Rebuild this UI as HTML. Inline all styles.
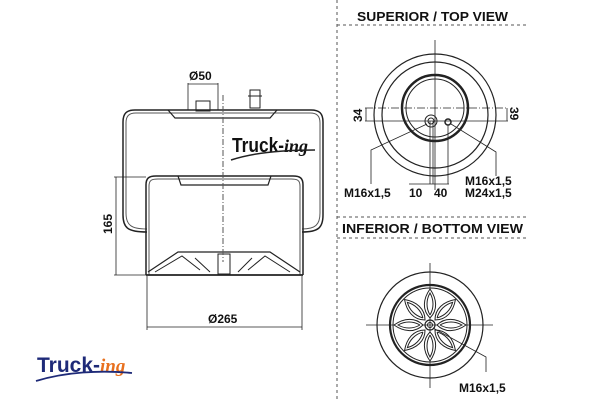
<!DOCTYPE html>
<html><head><meta charset="utf-8"><style>
html,body{margin:0;padding:0;background:#fff;width:600px;height:400px;overflow:hidden}
svg{display:block}
text{font-family:"Liberation Sans",Arial,sans-serif;font-weight:700;fill:#111}
</style></head><body>
<svg width="600" height="400" viewBox="0 0 600 400" xmlns="http://www.w3.org/2000/svg">
<g fill="none" stroke="#222" stroke-width="1">
<line x1="337" y1="0" x2="337" y2="400" stroke-dasharray="3,3" stroke="#555"/>
<line x1="337" y1="25" x2="527" y2="25" stroke-dasharray="3,3" stroke="#555"/>
<line x1="337" y1="217" x2="527" y2="217" stroke-dasharray="3,3" stroke="#555"/>
<line x1="337" y1="238" x2="527" y2="238" stroke-dasharray="3,3" stroke="#555"/>

<path d="M147,232 C128,232 123,228 123,215 L123,122 C123,113 127,110 135,110 L311,110 C319,110 323,113 323,122 L323,215 C323,228 318,232 302,232" stroke-width="1.5"/>
<path d="M147,229 C131,229 126,225 126,213 L126,123 C126,116 129,113 136,113 L310,113 C317,113 320,116 320,123 L320,213 C320,225 315,229 302,229" stroke="#555"/>
<path d="M168,110 L175,118 L270,118 L277,110" stroke-width="1.2"/>
<path d="M146,275 L146,185 C146,178 149,176 156,176 L293,176 C300,176 303,178 303,185 L303,275" stroke-width="1.5"/>
<path d="M149,275 L149,186 C149,180 152,179 158,179 L291,179 C297,179 300,180 300,186 L300,275" stroke="#555"/>
<path d="M178,176 L181,185 L268,185 L271,176" stroke-width="1.2"/>
<path d="M146,275 L303,275" stroke-width="1.8"/>
<path d="M148,272 L178,252 L270,252 L300,272" stroke-width="1.2"/>
<path d="M155,272 L182,256 L200,270 M290,272 L265,256 L248,270 M195,258 L210,272 M252,258 L238,272"/>
<rect x="218" y="254" width="12" height="20"/>
<rect x="196" y="101" width="14" height="10"/>
<rect x="250" y="90" width="10" height="18"/>
<line x1="248" y1="96" x2="262" y2="96"/>
<line x1="223" y1="95" x2="223" y2="262" stroke-dasharray="6,2,1,2" stroke="#555"/>
<line x1="188" y1="83" x2="188" y2="110" stroke-width="0.8"/>
<line x1="218" y1="83" x2="218" y2="110" stroke-width="0.8"/>
<line x1="188" y1="84" x2="218" y2="84" stroke-width="0.8"/>
<line x1="114" y1="177" x2="146" y2="177" stroke-width="0.8"/>
<line x1="114" y1="275" x2="146" y2="275" stroke-width="0.8"/>
<line x1="116" y1="177" x2="116" y2="275" stroke-width="0.8"/>
<line x1="147" y1="276" x2="147" y2="330" stroke-width="0.8"/>
<line x1="302" y1="276" x2="302" y2="330" stroke-width="0.8"/>
<line x1="147" y1="327" x2="302" y2="327" stroke-width="0.8"/>

<line x1="435" y1="40" x2="435" y2="190" stroke-width="0.8"/>
<circle cx="435" cy="115" r="61" stroke-width="1.2"/>
<circle cx="435" cy="115" r="53" stroke-width="1.2"/>
<circle cx="435" cy="108" r="33" stroke-width="2.5"/>
<circle cx="435" cy="108" r="29"/>
<line x1="365" y1="108" x2="508" y2="108" stroke-width="0.8" stroke-dasharray="8,2,1,2"/>
<line x1="365" y1="121" x2="508" y2="121" stroke-width="0.8"/>
<line x1="366" y1="108" x2="366" y2="121" stroke-width="0.8"/>
<line x1="507" y1="108" x2="507" y2="121" stroke-width="0.8"/>
<circle cx="431" cy="121" r="6"/>
<circle cx="431" cy="121" r="3"/>
<circle cx="448" cy="122" r="3" stroke-width="1.5"/>
<polyline points="427,124 371,150 371,184" stroke-width="0.8"/>
<polyline points="451,124 496,152 496,176" stroke-width="0.8"/>
<line x1="430" y1="121" x2="430" y2="184" stroke-width="0.8"/>
<line x1="433" y1="121" x2="433" y2="184" stroke-width="0.8"/>
<line x1="448" y1="125" x2="448" y2="184" stroke-width="0.8"/>
<line x1="409" y1="184" x2="449" y2="184" stroke-width="0.8"/>

<line x1="430" y1="263" x2="430" y2="388" stroke-width="0.8"/>
<line x1="366" y1="325" x2="493" y2="325" stroke-width="0.8"/>
<circle cx="430" cy="325" r="53" stroke-width="1.2"/>
<circle cx="430" cy="325" r="40" stroke-width="2.2"/>
<circle cx="430" cy="325" r="37"/>
<g id="p">
<path d="M430,318 C422,310 423,299 430,289 C437,299 438,310 430,318 Z" fill="#fff"/>
<path d="M430,315 C426,308 426,300 430,293 C434,300 434,308 430,315"/>
</g>
<use href="#p" transform="rotate(45 430 325)"/>
<use href="#p" transform="rotate(90 430 325)"/>
<use href="#p" transform="rotate(135 430 325)"/>
<use href="#p" transform="rotate(180 430 325)"/>
<use href="#p" transform="rotate(225 430 325)"/>
<use href="#p" transform="rotate(270 430 325)"/>
<use href="#p" transform="rotate(315 430 325)"/>
<circle cx="430" cy="325" r="5" stroke-width="1.2"/>
<circle cx="430" cy="325" r="2.5"/>
<polyline points="433,328 486,357 486,372" stroke-width="0.8"/>
</g>

<text x="232" y="152" font-size="20" textLength="52" lengthAdjust="spacingAndGlyphs">Truck-</text>
<text x="284" y="152" font-size="18" font-style="italic" font-weight="normal" style="font-family:'Liberation Serif',serif" fill="#222">ing</text>
<path d="M231,160 C255,152 285,150 315,150" fill="none" stroke="#222" stroke-width="1.5"/>
<text x="37" y="372" font-size="21" style="fill:#1e2a78" textLength="63" lengthAdjust="spacingAndGlyphs">Truck-</text>
<text x="100" y="372" font-size="19" font-style="italic" font-weight="normal" style="font-family:'Liberation Serif',serif;fill:#e8701e">ing</text>
<path d="M36,381 C65,372 100,370 132,373" fill="none" stroke="#1e2a78" stroke-width="1.8"/>

<text x="189" y="80" font-size="12">Ø50</text>
<text x="208" y="323" font-size="12">Ø265</text>
<text transform="translate(112,234) rotate(-90)" font-size="12">165</text>
<text x="357" y="21" font-size="13" textLength="151" lengthAdjust="spacingAndGlyphs">SUPERIOR / TOP VIEW</text>
<text x="342" y="233" font-size="13" textLength="181" lengthAdjust="spacingAndGlyphs">INFERIOR / BOTTOM VIEW</text>
<text transform="translate(362,122) rotate(-90)" font-size="12">34</text>
<text transform="translate(510,107) rotate(90)" font-size="12">39</text>
<text x="344" y="197" font-size="12">M16x1,5</text>
<text x="409" y="197" font-size="12">10</text>
<text x="434" y="197" font-size="12">40</text>
<text x="465" y="185" font-size="12">M16x1,5</text>
<text x="465" y="197" font-size="12">M24x1,5</text>
<text x="459" y="392" font-size="12">M16x1,5</text>
</svg>
</body></html>
